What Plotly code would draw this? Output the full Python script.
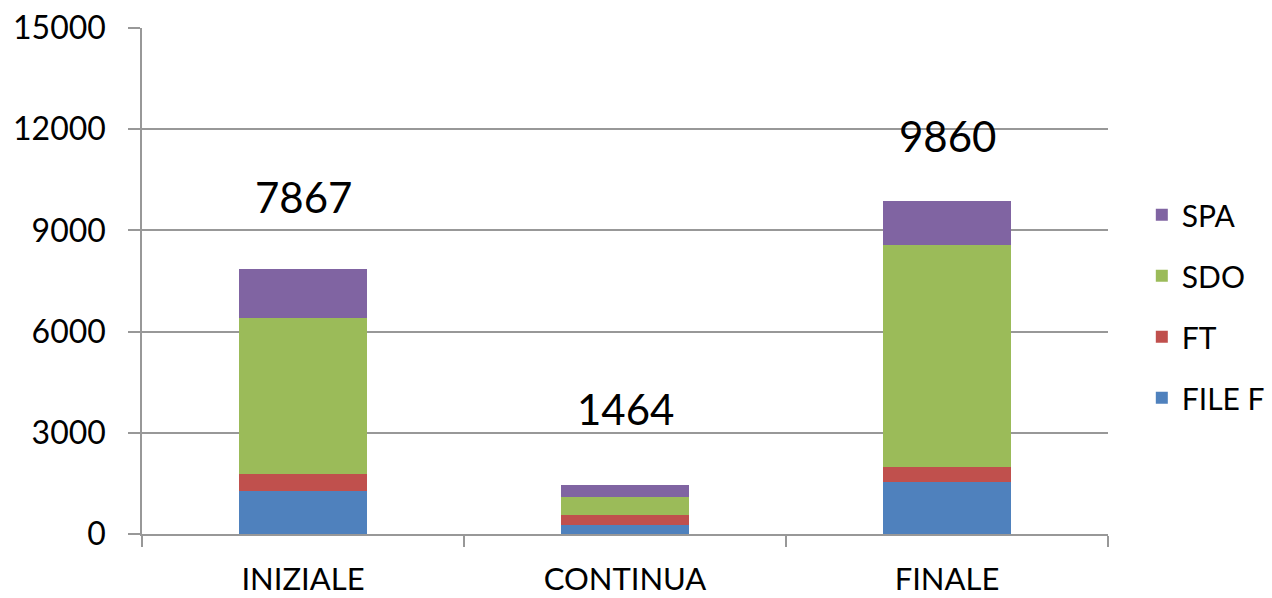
import plotly.graph_objects as go

categories = ["INIZIALE", "CONTINUA", "FINALE"]
file_f = [1280, 270, 1540]
ft = [510, 300, 460]
sdo = [4600, 520, 6560]
spa = [1477, 374, 1300]
totals = [7867, 1464, 9860]
y_ticks = [0, 3000, 6000, 9000, 12000, 15000]

# label offsets above the bar tops (pixels, styling only)
label_shift = [72, 76, 65]

series = [
    ("FILE F", file_f, "#4F81BD"),
    ("FT", ft, "#C0504D"),
    ("SDO", sdo, "#9BBB59"),
    ("SPA", spa, "#8064A2"),
]

FONT = "Lato, 'Open Sans', sans-serif"
GRID = "#989898"

fig = go.Figure()
for i, (name, vals, color) in enumerate(series):
    fig.add_trace(go.Bar(
        x=categories, y=vals, name=name,
        marker=dict(color=color, line=dict(width=0)),
        width=0.4, legendgroup=name, legendrank=100 - i,
    ))

for cat, tot, sh in zip(categories, totals, label_shift):
    fig.add_annotation(
        x=cat, y=tot, text=str(tot), showarrow=False,
        yanchor="middle", yshift=sh,
        font=dict(family=FONT, size=42, color="#000000"),
    )

fig.update_layout(
    barmode="stack",
    width=1272, height=598,
    margin=dict(l=142, r=164, t=28, b=64, autoexpand=False),
    paper_bgcolor="white", plot_bgcolor="white",
    font=dict(family=FONT, size=30, color="#000000"),
    legend=dict(
        traceorder="grouped", tracegroupgap=19,
        x=1.035, xanchor="left", y=0.45, yanchor="middle",
        font=dict(family=FONT, size=30, color="#000000"),
        bgcolor="rgba(0,0,0,0)",
    ),
    bargap=0.6,
)

fig.update_yaxes(
    range=[0, 15000], tickvals=y_ticks, ticktext=[str(v) for v in y_ticks],
    showgrid=True, gridcolor=GRID, gridwidth=1.5,
    showline=True, linecolor=GRID, linewidth=1.5,
    ticks="outside", ticklen=12, tickcolor=GRID, tickwidth=1.5,
    zeroline=False, ticklabelstandoff=16, automargin=False,
    tickfont=dict(family=FONT, size=32, color="#000000"),
)
fig.update_xaxes(
    showline=True, linecolor=GRID, linewidth=1.5,
    ticks="outside", ticklen=11, tickcolor=GRID, tickwidth=1.5,
    tickson="boundaries", showgrid=False, ticklabelstandoff=17,
    automargin=False,
    tickfont=dict(family=FONT, size=31, color="#000000"),
)

fig.write_html(
    "out.html",
    config={"displayModeBar": False},
    post_script="document.body.style.margin='0';document.body.style.overflow='hidden';",
)
